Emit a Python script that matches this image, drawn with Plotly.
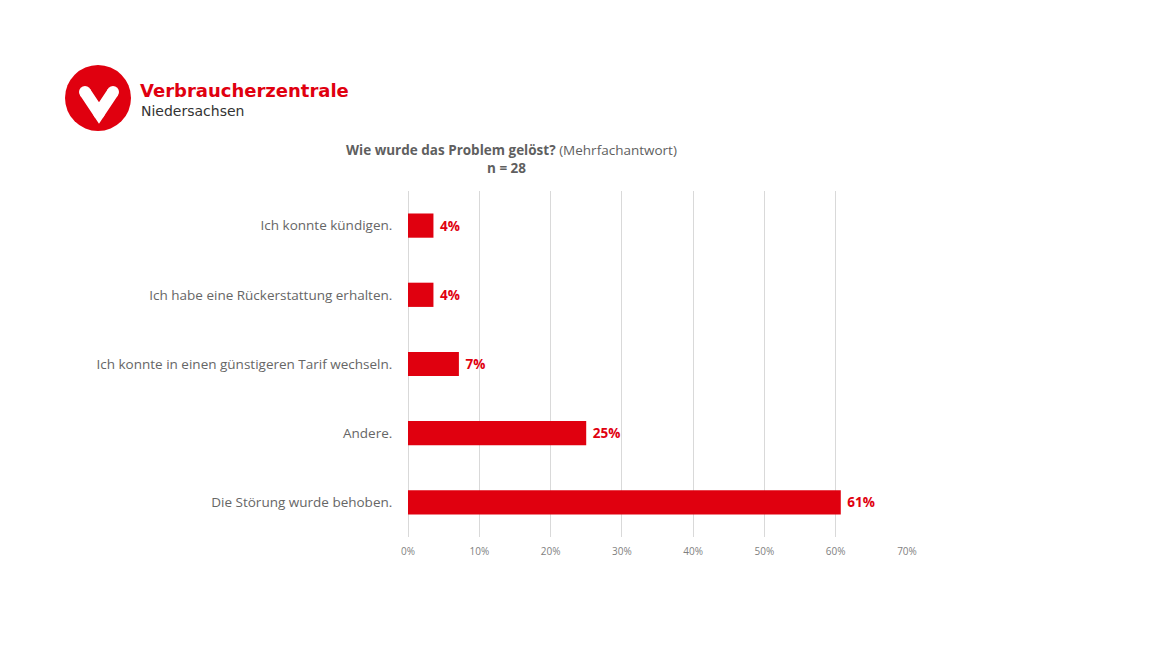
import plotly.graph_objects as go

categories = [
    "Ich konnte kündigen.",
    "Ich habe eine Rückerstattung erhalten.",
    "Ich konnte in einen günstigeren Tarif wechseln.",
    "Andere.",
    "Die Störung wurde behoben.",
]
values = [3.57, 3.57, 7.14, 25.0, 60.71]
labels = ["4%", "4%", "7%", "25%", "61%"]
tick_vals = [0, 10, 20, 30, 40, 50, 60, 70]
tick_text = ["0%", "10%", "20%", "30%", "40%", "50%", "60%", "70%"]

RED = "#e0000f"
GRAY = "#5f5f5f"
FONT = "Open Sans"
LOGO_FONT = "DejaVu Sans"

OFF = 8  # page body margin
W, H = 1170 - 2 * OFF, 658 - 2 * OFF
PL, PR, PT, PB = 408, 907, 191, 537  # plot area in window pixels
L, T = PL - OFF, PT - OFF
PW, PH = PR - PL, PB - PT
R, B = W - L - PW, H - T - PH


def px(x):
    return (x - PL) / PW


def py(y):
    return (PB - y) / PH


fig = go.Figure()
fig.add_trace(go.Bar(
    x=values,
    y=categories,
    orientation="h",
    width=0.35,
    marker=dict(color=RED, line=dict(width=0)),
    text=labels,
    texttemplate=" %{text}",
    textposition="outside",
    textfont=dict(color=RED, size=13.5, family=FONT, weight="bold"),
    cliponaxis=False,
    hoverinfo="skip",
))

shapes = []
cx, cy, r = 98, 98, 33
shapes.append(dict(type="circle", xref="paper", yref="paper",
                   x0=px(cx - r), x1=px(cx + r), y0=py(cy + r), y1=py(cy - r),
                   fillcolor=RED, line=dict(width=0), layer="above"))
vpath = "M {} {} L {} {} L {} {}".format(px(85), py(92), px(99), py(113), px(113), py(92))
shapes.append(dict(type="path", xref="paper", yref="paper", path=vpath,
                   line=dict(color="white", width=12), layer="above"))
for ex, ey in [(85, 92), (113, 92), (99, 113)]:
    rr = 6
    shapes.append(dict(type="circle", xref="paper", yref="paper",
                       x0=px(ex - rr), x1=px(ex + rr), y0=py(ey + rr), y1=py(ey - rr),
                       fillcolor="white", line=dict(width=0), layer="above"))

annotations = [
    dict(text="<b>Verbraucherzentrale</b>", x=px(139), y=py(102), xref="paper", yref="paper",
         xanchor="left", yanchor="bottom", showarrow=False, borderpad=0,
         font=dict(family=LOGO_FONT, size=18, color=RED)),
    dict(text="Niedersachsen", x=px(140), y=py(102.5), xref="paper", yref="paper",
         xanchor="left", yanchor="top", showarrow=False, borderpad=0,
         font=dict(family=LOGO_FONT, size=14, color="#333333")),
    dict(text="<b>Wie wurde das Problem gelöst?</b> (Mehrfachantwort)", x=px(511), y=py(150),
         xref="paper", yref="paper", xanchor="center", yanchor="middle", showarrow=False,
         font=dict(family=FONT, size=13.5, color=GRAY)),
    dict(text="<b>n = 28</b>", x=px(506), y=py(168),
         xref="paper", yref="paper", xanchor="center", yanchor="middle", showarrow=False,
         font=dict(family=FONT, size=13.5, color=GRAY)),
]

fig.update_layout(
    width=W, height=H,
    margin=dict(l=L, r=R, t=T, b=B),
    plot_bgcolor="white", paper_bgcolor="white",
    showlegend=False,
    shapes=shapes,
    annotations=annotations,
    xaxis=dict(range=[0, 70], tickvals=tick_vals, ticktext=tick_text,
               showgrid=True, gridcolor="#d9d9d9", gridwidth=1,
               zeroline=True, zerolinecolor="#d9d9d9", zerolinewidth=1,
               showline=False, ticks="outside", ticklen=5, tickcolor="white",
               tickfont=dict(family=FONT, size=10, color="#7f7f7f"),
               fixedrange=True),
    yaxis=dict(autorange=False, range=[4.5, -0.5], type="category",
               categoryorder="array", categoryarray=categories,
               showgrid=False, zeroline=False, showline=False,
               ticks="outside", ticklen=12, tickcolor="white",
               tickfont=dict(family=FONT, size=13.5, color="#666666"),
               fixedrange=True),
    font=dict(family=FONT),
)

fig.write_html("out.html")
